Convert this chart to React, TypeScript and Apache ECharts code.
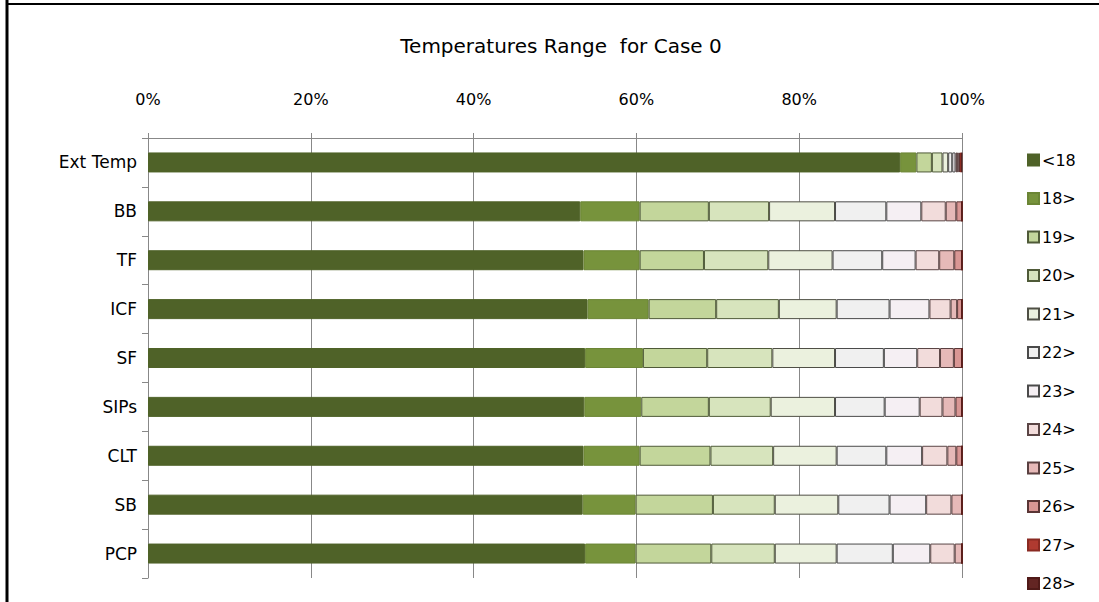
import React, { useEffect, useRef } from "react";
import * as echarts from "echarts";

const categories = ["Ext Temp", "BB", "TF", "ICF", "SF", "SIPs", "CLT", "SB", "PCP"];
const seriesNames = ["<18", "18>", "19>", "20>", "21>", "22>", "23>", "24>", "25>", "26>", "27>", "28>"];
const colors = ["#4f6228", "#77933c", "#c3d69b", "#d7e4bd", "#ebf1de", "#f0f0f0", "#f5eff3", "#f2dcdb", "#e6b9b8", "#d99694", "#b03a30", "#632523"];
const borderColors = ["#4f6228", "#6b8535", "#4f5a38", "#4f5a38", "#4f4f45", "#4a4a4a", "#4a4a4a", "#5a4545", "#5a4040", "#5a3535", "#8a2a22", "#501a18"];

// percentage of time in each band, per category (order of categories)
const vLt18 = [92.4, 53.1, 53.5, 54.0, 53.7, 53.6, 53.5, 53.4, 53.7];
const v18 = [2.0, 7.3, 6.9, 7.5, 7.1, 7.0, 6.9, 6.5, 6.2];
const v19 = [1.9, 8.5, 7.9, 8.3, 7.9, 8.3, 8.7, 9.5, 9.3];
const v20 = [1.3, 7.4, 7.9, 7.7, 8.0, 7.6, 7.7, 7.6, 7.8];
const v21 = [0.7, 8.1, 7.9, 7.1, 7.7, 7.9, 7.8, 7.8, 7.6];
const v22 = [0.5, 6.3, 6.1, 6.5, 6.0, 6.1, 6.1, 6.3, 6.9];
const v23 = [0.4, 4.3, 4.1, 4.9, 4.1, 4.3, 4.4, 4.5, 4.6];
const v24 = [0.2, 3.0, 2.9, 2.6, 2.8, 2.8, 3.1, 3.1, 3.0];
const v25 = [0.2, 1.3, 1.85, 0.8, 1.7, 1.6, 1.1, 1.3, 0.9];
const v26 = [0.15, 0.7, 0.95, 0.6, 1.0, 0.8, 0.7, 0, 0];
const v27 = [0.2, 0, 0, 0, 0, 0, 0, 0, 0];
const v28 = [0.05, 0, 0, 0, 0, 0, 0, 0, 0];
const allValues = [vLt18, v18, v19, v20, v21, v22, v23, v24, v25, v26, v27, v28];
const xTicks = [0, 20, 40, 60, 80, 100];

const FONT = "'DejaVu Sans', sans-serif";

export default function App() {
  const ref = useRef<HTMLDivElement>(null);
  useEffect(() => {
    document.body.style.margin = "0";
    const chart = echarts.init(ref.current!, null, { renderer: "svg" });
    chart.setOption({
      animation: false,
      backgroundColor: "#ffffff",
      title: {
        text: "Temperatures Range  for Case 0",
        left: 556,
        textAlign: "center",
        top: 31,
        textStyle: { fontFamily: FONT, fontSize: 20, fontWeight: "normal", color: "#000" },
      },
      legend: {
        orient: "vertical",
        left: 1022,
        top: 147,
        icon: "rect",
        itemWidth: 11,
        itemHeight: 11,
        itemGap: 22.5,
        data: seriesNames,
        textStyle: { fontFamily: FONT, fontSize: 16, color: "#000", padding: [0, 0, 0, -2] },
      },
      grid: { left: 148, right: 137, top: 138, bottom: 24 },
      xAxis: {
        type: "value",
        position: "top",
        min: 0,
        max: 100,
        interval: 20,
        axisLine: { show: true, lineStyle: { color: "#888" } },
        axisTick: { show: true, inside: false, length: 5, lineStyle: { color: "#888" } },
        splitLine: { show: true, lineStyle: { color: "#888", width: 1 } },
        axisLabel: {
          margin: 31,
          formatter: (v: number) => (xTicks.includes(v) ? v + "%" : ""),
          fontFamily: FONT,
          fontSize: 16,
          color: "#000",
        },
      },
      yAxis: {
        type: "category",
        data: categories,
        inverse: true,
        axisLine: { show: true, lineStyle: { color: "#888" } },
        axisTick: { show: true, length: 6, lineStyle: { color: "#888" } },
        axisLabel: { margin: 11, fontFamily: FONT, fontSize: 17, color: "#000" },
      },
      series: seriesNames.map((name, i) => ({
        name,
        type: "bar",
        stack: "total",
        barWidth: 20,
        data: allValues[i],
        itemStyle: { color: colors[i], borderColor: borderColors[i], borderWidth: 1 },
      })),
      graphic: [
        { type: "line", shape: { x1: 7, y1: 0, x2: 7, y2: 602 }, style: { stroke: "#000", lineWidth: 3 } },
        { type: "line", shape: { x1: 6, y1: 4, x2: 1099, y2: 4 }, style: { stroke: "#000", lineWidth: 2 } },
      ],
    });
    return () => chart.dispose();
  }, []);
  return <div ref={ref} style={{ width: 1099, height: 602 }} />;
}
